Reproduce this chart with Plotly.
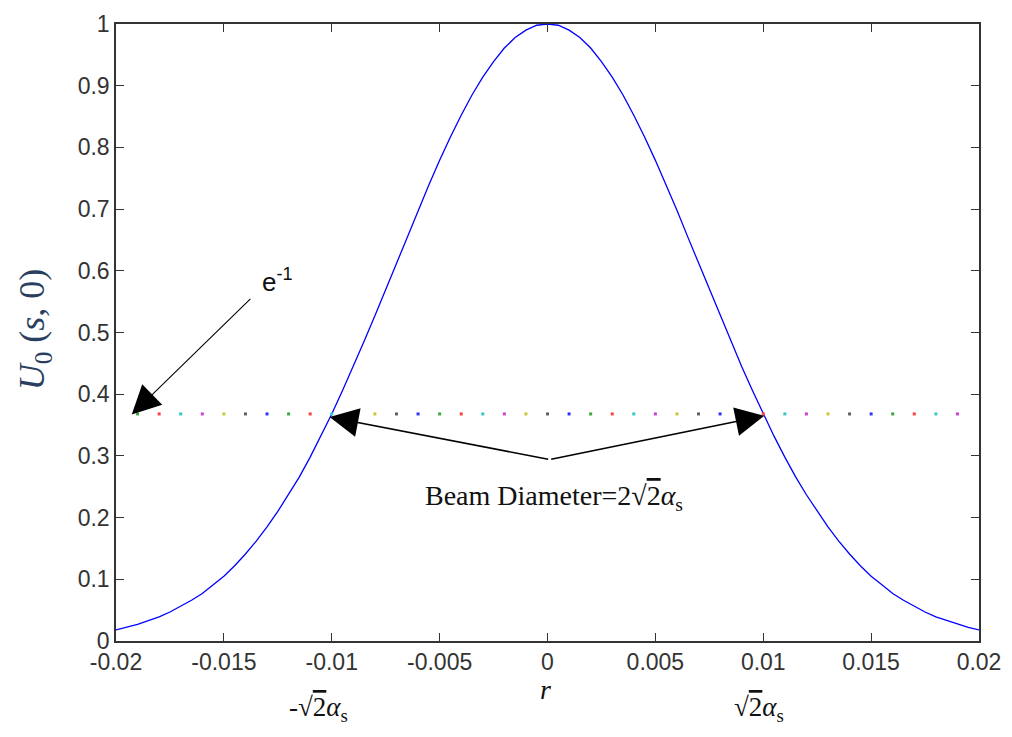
import plotly.graph_objects as go

# ---- data ----
r_vals = [-0.0200, -0.0195, -0.0190, -0.0185, -0.0180, -0.0175, -0.0170, -0.0165, -0.0160, -0.0155,
          -0.0150, -0.0145, -0.0140, -0.0135, -0.0130, -0.0125, -0.0120, -0.0115, -0.0110, -0.0105,
          -0.0100, -0.0095, -0.0090, -0.0085, -0.0080, -0.0075, -0.0070, -0.0065, -0.0060, -0.0055,
          -0.0050, -0.0045, -0.0040, -0.0035, -0.0030, -0.0025, -0.0020, -0.0015, -0.0010, -0.0005,
          0.0000,
          0.0005, 0.0010, 0.0015, 0.0020, 0.0025, 0.0030, 0.0035, 0.0040, 0.0045, 0.0050,
          0.0055, 0.0060, 0.0065, 0.0070, 0.0075, 0.0080, 0.0085, 0.0090, 0.0095, 0.0100,
          0.0105, 0.0110, 0.0115, 0.0120, 0.0125, 0.0130, 0.0135, 0.0140, 0.0145, 0.0150,
          0.0155, 0.0160, 0.0165, 0.0170, 0.0175, 0.0180, 0.0185, 0.0190, 0.0195, 0.0200]
u_vals = [0.018, 0.022, 0.027, 0.033, 0.039, 0.047, 0.056, 0.066, 0.077, 0.091,
          0.105, 0.122, 0.141, 0.162, 0.185, 0.210, 0.237, 0.266, 0.298, 0.332,
          0.368, 0.406, 0.445, 0.486, 0.527, 0.570, 0.613, 0.655, 0.698, 0.739,
          0.779, 0.817, 0.852, 0.885, 0.914, 0.939, 0.961, 0.978, 0.990, 0.998,
          1.000,
          0.998, 0.990, 0.978, 0.961, 0.939, 0.914, 0.885, 0.852, 0.817, 0.779,
          0.739, 0.698, 0.655, 0.613, 0.570, 0.527, 0.486, 0.445, 0.406, 0.368,
          0.332, 0.298, 0.266, 0.237, 0.210, 0.185, 0.162, 0.141, 0.122, 0.105,
          0.091, 0.077, 0.066, 0.056, 0.047, 0.039, 0.033, 0.027, 0.022, 0.018]

level_x = [-0.019, -0.018, -0.017, -0.016, -0.015, -0.014, -0.013, -0.012, -0.011, -0.010,
           -0.009, -0.008, -0.007, -0.006, -0.005, -0.004, -0.003, -0.002, -0.001, 0.000,
           0.001, 0.002, 0.003, 0.004, 0.005, 0.006, 0.007, 0.008, 0.009, 0.010,
           0.011, 0.012, 0.013, 0.014, 0.015, 0.016, 0.017, 0.018, 0.019]
level_y = 0.368
dot_cycle = ["#3aa83a", "#ff4040", "#30c8c8", "#d040d0", "#c8c830", "#606060", "#3030ff"]

x_ticks = [-0.02, -0.015, -0.01, -0.005, 0, 0.005, 0.01, 0.015, 0.02]
x_tick_text = ["-0.02", "-0.015", "-0.01", "-0.005", "0", "0.005", "0.01", "0.015", "0.02"]
y_ticks = [0, 0.1, 0.2, 0.3, 0.4, 0.5, 0.6, 0.7, 0.8, 0.9, 1]
y_tick_text = ["0", "0.1", "0.2", "0.3", "0.4", "0.5", "0.6", "0.7", "0.8", "0.9", "1"]

# annotation anchor values (data units)
e_arrow_tip = (-0.01927, 0.367)
e_arrow_tail = (-0.0137, 0.557)
e_text_pos = (-0.0125, 0.585)
beam_vertex = (0.0001, 0.294)
beam_left_tip = (-0.0101, 0.363)
beam_right_tip = (0.01005, 0.365)
beam_text_pos = (0.0003, 0.233)

fig = go.Figure()
fig.add_trace(go.Scatter(x=r_vals, y=u_vals, mode="lines",
                         line=dict(color="#0000ff", width=1.3), showlegend=False,
                         hoverinfo="skip"))
fig.add_trace(go.Scatter(x=level_x, y=[level_y] * len(level_x), mode="markers",
                         marker=dict(size=3, symbol="square",
                                     color=[dot_cycle[i % len(dot_cycle)] for i in range(len(level_x))],
                                     line=dict(width=0)),
                         showlegend=False, hoverinfo="skip"))

axis_common = dict(showgrid=False, zeroline=False, showline=True, linecolor="#333333",
                   linewidth=1.5, mirror="allticks", ticks="inside", ticklen=8,
                   tickwidth=1.3, tickcolor="#333333",
                   tickfont=dict(family="Liberation Sans, Arial", size=23, color="#333333"))

fig.update_xaxes(range=[-0.02, 0.02], tickmode="array", tickvals=x_ticks,
                 ticktext=x_tick_text, **axis_common)
fig.update_yaxes(range=[0, 1], tickmode="array", tickvals=y_ticks,
                 ticktext=y_tick_text, **axis_common)

serif = "Liberation Serif, Times New Roman"
arrow_common = dict(xref="x", yref="y", axref="x", ayref="y", text="", showarrow=True,
                    arrowhead=2, arrowsize=3.6, arrowwidth=1.6, arrowcolor="#000000")
ann = [
    dict(x=e_arrow_tip[0], y=e_arrow_tip[1], ax=e_arrow_tail[0], ay=e_arrow_tail[1],
         **{**arrow_common, "arrowwidth": 1.1, "arrowsize": 5.2}),
    dict(x=beam_left_tip[0], y=beam_left_tip[1], ax=beam_vertex[0], ay=beam_vertex[1], **arrow_common),
    dict(x=beam_right_tip[0], y=beam_right_tip[1], ax=beam_vertex[0], ay=beam_vertex[1], **arrow_common),
    dict(x=e_text_pos[0], y=e_text_pos[1], xref="x", yref="y", showarrow=False,
         xanchor="center", yanchor="middle",
         text="e<sup>-1</sup>", font=dict(family="Liberation Sans, Arial", size=26, color="#111111")),
    dict(x=beam_text_pos[0], y=beam_text_pos[1], xref="x", yref="y", showarrow=False,
         xanchor="center", yanchor="middle",
         text="Beam Diameter=2√<span style='text-decoration:overline'>2</span><i>α</i><sub>s</sub>",
         font=dict(family=serif, size=28, color="#111111")),
    dict(x=-0.0001, y=-0.078, xref="x", yref="paper", showarrow=False,
         xanchor="center", yanchor="middle",
         text="<i>r</i>", font=dict(family=serif, size=28, color="#111111")),
    dict(x=-0.0106, y=-0.11, xref="x", yref="paper", showarrow=False,
         xanchor="center", yanchor="middle",
         text="-√<span style='text-decoration:overline'>2</span><i>α</i><sub>s</sub>",
         font=dict(family=serif, size=27, color="#111111")),
    dict(x=0.0098, y=-0.11, xref="x", yref="paper", showarrow=False,
         xanchor="center", yanchor="middle",
         text="√<span style='text-decoration:overline'>2</span><i>α</i><sub>s</sub>",
         font=dict(family=serif, size=27, color="#111111")),
    dict(x=-0.094, y=0.505, xref="paper", yref="paper", showarrow=False, textangle=-90,
         xanchor="center", yanchor="middle",
         text="<i>U</i><sub>0</sub> (<i>s</i>, 0)",
         font=dict(family=serif, size=36, color="#2a3f5f")),
]

fig.update_layout(width=1012, height=737, margin=dict(l=116, r=32, t=11, b=96),
                  paper_bgcolor="white", plot_bgcolor="white", annotations=ann)

fig.write_html("out.html")
